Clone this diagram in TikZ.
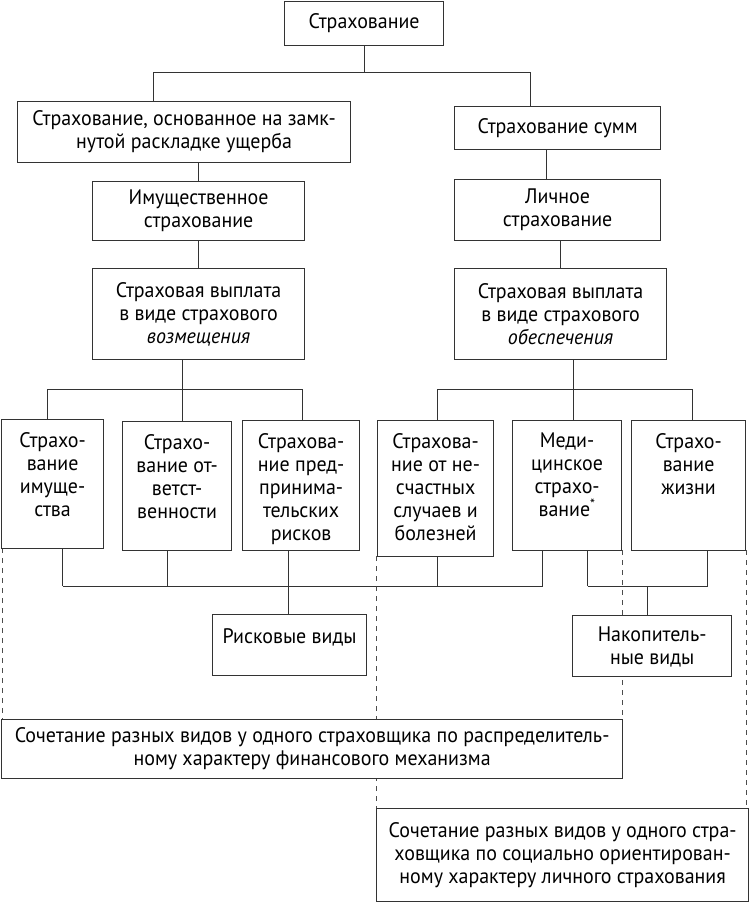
\documentclass[tikz,border=0pt]{standalone}
\usepackage{fontspec}
\setmainfont{PT Sans}[FakeStretch=0.95]
\begin{document}
\begin{tikzpicture}[x=1pt,y=-1pt,
  ln/.style={draw=black!80, line width=1.2pt},
  box/.style={ln, fill=white, inner sep=0pt, anchor=north west, align=center},
  txt/.style={inner sep=0pt, anchor=north, align=center},
  dsh/.style={draw=black!70, line width=0.9pt, dash pattern=on 5pt off 5pt},
  font=\fontsize{21}{23}\selectfont]
\fill[white] (0,0) rectangle (752,902);
\useasboundingbox (0,0) rectangle (752,902);

% dashed links (drawn first, hidden behind boxes)
\coordinate (d1a) at (2,548); \coordinate (d1b) at (2,719);
\coordinate (d2a) at (622,550); \coordinate (d2b) at (622,719);
\coordinate (d3a) at (376,556); \coordinate (d3b) at (376,808);
\coordinate (d4a) at (746,550); \coordinate (d4b) at (746,808);
\draw[dsh] (d1a) -- (d1b);
\draw[dsh] (d2a) -- (d2b);
\draw[dsh] (d3a) -- (d3b);
\draw[dsh] (d4a) -- (d4b);

% boxes
\node[box, minimum width=159pt, minimum height=44pt] (T) at (284,1) {Страхование};
\node[box, minimum width=333pt, minimum height=61pt] (L1) at (17,101) {Страхование, основанное на замк-\\нутой раскладке ущерба};
\node[box, minimum width=206pt, minimum height=43pt] (R1) at (454,106) {Страхование сумм};
\node[box, minimum width=212pt, minimum height=59pt] (L2) at (92,181) {Имущественное\\страхование};
\node[box, minimum width=206pt, minimum height=61pt] (R2) at (454,179) {Личное\\страхование};
\node[box, minimum width=212pt, minimum height=91pt] (L3) at (92,268) {Страховая выплата\\в виде страхового\\\textit{возмещения}};
\node[box, minimum width=212pt, minimum height=91pt] (R3) at (454,268) {Страховая выплата\\в виде страхового\\\textit{обеспечения}};

\node[box, minimum width=102pt, minimum height=129pt] (C1) at (1,419) {};
\node[box, minimum width=109pt, minimum height=129pt] (C2) at (122,421) {};
\node[box, minimum width=117pt, minimum height=130pt] (C3) at (242,420) {};
\node[box, minimum width=116pt, minimum height=136pt] (C4) at (377,420) {};
\node[box, minimum width=109pt, minimum height=130pt] (C5) at (512,420) {};
\node[box, minimum width=114pt, minimum height=130pt] (C6) at (631,420) {};
\node[txt] (C1t) at ([yshift=-13pt]C1.north) {Страхо-\\вание\\имуще-\\ства};
\node[txt] (C2t) at ([yshift=-13pt]C2.north) {Страхо-\\вание от-\\ветст-\\венности};
\node[txt] (C3t) at ([yshift=-13pt]C3.north) {Страхова-\\ние пред-\\принима-\\тельских\\рисков};
\node[txt] (C4t) at ([yshift=-13pt]C4.north) {Страхова-\\ние от не-\\счастных\\случаев и\\болезней};
\node[txt] (C5t) at ([yshift=-13pt]C5.north) {Меди-\\цинское\\страхо-\\вание\textsuperscript{*}};
\node[txt] (C6t) at ([yshift=-13pt]C6.north) {Страхо-\\вание\\жизни};

\node[box, minimum width=154pt, minimum height=61pt] (Rk) at (212,614) {};
\node[txt] (Rkt) at ([yshift=-14pt]Rk.north) {Рисковые виды};
\node[box, minimum width=159pt, minimum height=61pt] (Ac) at (572,615) {};
\node[txt] (Act) at ([yshift=-12pt]Ac.north) {Накопитель-\\ные виды};

\node[box, minimum width=621pt, minimum height=59pt] (K1) at (1,719) {Сочетание разных видов у одного страховщика по распределитель-\\ному характеру финансового механизма};
\node[box, minimum width=372pt, minimum height=93pt] (K2) at (376,808) {Сочетание разных видов у одного стра-\\ховщика по социально ориентирован-\\ному характеру личного страхования};

% tree connectors
\draw[ln] (T.south) -- ++(0,26) coordinate (tj);
\draw[ln] ([xshift=-30.5pt]L1.north) |- (tj) -| ([xshift=-27pt]R1.north);
\draw[ln] (L2.north) -- (L2.north |- L1.south);
\draw[ln] ([xshift=-11pt]R2.north) -- ([xshift=-11pt]R2.north |- R1.south);
\draw[ln] (L3.north) -- (L2.south);
\draw[ln] (R3.north) -- (R3.north |- R2.south);

% left bus
\draw[ln] ([xshift=-16pt]L3.south) -- ++(0,29) coordinate (lb);
\draw[ln] ([xshift=-5pt]C1.north) |- (lb) -| ([xshift=1.5pt]C3.north);
\draw[ln] (lb) -- (lb |- C2.north);
% right bus
\draw[ln] ([xshift=13pt]R3.south) -- ++(0,29) coordinate (rb);
\draw[ln] ([xshift=2pt]C4.north) |- (rb) -| ([xshift=4pt]C6.north);
\draw[ln] (rb) -- (rb |- C5.north);

% risk bus
\draw[ln] ([xshift=10pt]C1.south) -- ++(0,37) coordinate (kb);
\draw[ln] (kb) -| ([xshift=-24.5pt]C5.south);
\draw[ln] ([xshift=-9.5pt]C2.south) -- ([xshift=-9.5pt]C2.south |- kb);
\draw[ln] ([xshift=2pt]C4.south) -- ([xshift=2pt]C4.south |- kb);
\draw[ln] ([xshift=-1pt]Rk.north) -- ([xshift=-1pt]Rk.north |- C3.south);

% accumulative bus
\draw[ln] ([xshift=20.5pt]C5.south) -- ++(0,35) coordinate (ab);
\draw[ln] (ab) -| ([xshift=19pt]C6.south);
\draw[ln] ([xshift=-4.5pt]Ac.north) -- ([xshift=-4.5pt]Ac.north |- ab);
\end{tikzpicture}
\end{document}
